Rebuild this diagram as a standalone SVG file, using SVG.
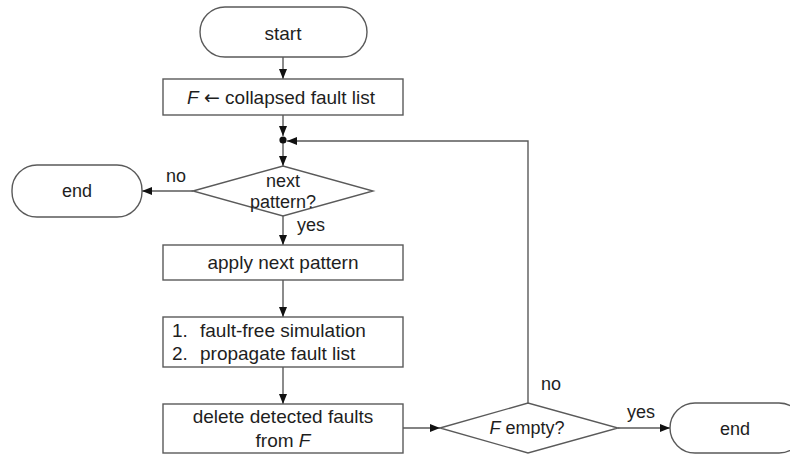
<svg xmlns="http://www.w3.org/2000/svg" width="790" height="455" viewBox="0 0 790 455">
  <style>
    .shape { fill: #ffffff; stroke: #5a5a5a; stroke-width: 1.4; }
    .link { fill: none; stroke: #5a5a5a; stroke-width: 1.4; }
    text { font-family: "Liberation Sans", Arial, sans-serif; font-size: 19px; fill: #1e1e1e; }
    .s { font-size: 18px; }
    .c { text-anchor: middle; }
    .i { font-style: italic; }
    .sym { font-family: "DejaVu Sans", sans-serif; }
  </style>
  <defs>
    <marker id="arrow" markerUnits="userSpaceOnUse" markerWidth="10" markerHeight="10" viewBox="0 0 10 10" refX="10" refY="5" orient="auto">
      <path d="M0,1 L10,5 L0,9 Z" fill="#111111"/>
    </marker>
  </defs>

  <rect width="790" height="455" fill="#ffffff"/>

  <!-- connectors and their labels -->
  <g id="connectors">
    <line class="link" x1="283" y1="57" x2="283" y2="79" marker-end="url(#arrow)"/>
    <line class="link" x1="283" y1="115" x2="283" y2="136" marker-end="url(#arrow)"/>
    <line class="link" x1="283" y1="140" x2="283" y2="166" marker-end="url(#arrow)"/>
    <line class="link" x1="193" y1="191" x2="142" y2="191" marker-end="url(#arrow)"/>
    <line class="link" x1="283" y1="216" x2="283" y2="245" marker-end="url(#arrow)"/>
    <line class="link" x1="283" y1="280" x2="283" y2="317" marker-end="url(#arrow)"/>
    <line class="link" x1="283" y1="367" x2="283" y2="404" marker-end="url(#arrow)"/>
    <line class="link" x1="403" y1="428" x2="440" y2="428" marker-end="url(#arrow)"/>
    <line class="link" x1="618" y1="428" x2="670" y2="428" marker-end="url(#arrow)"/>
    <polyline class="link" points="528,403 528,141 287,141" marker-end="url(#arrow)"/>
    <circle cx="283" cy="140" r="3.6" fill="#111111"/>
    <text class="s" x="166" y="182">no</text>
    <text class="s" x="297" y="231">yes</text>
    <text class="s" x="541" y="390">no</text>
    <text class="s" x="627" y="418">yes</text>
  </g>

  <g id="start">
    <rect class="shape" x="200" y="7" width="167" height="50" rx="25" ry="25"/>
    <text class="c" x="283" y="40">start</text>
  </g>

  <g id="init">
    <rect class="shape" x="163" y="79" width="240" height="36"/>
    <text x="187" y="104"><tspan class="i">F</tspan> <tspan class="sym">←</tspan> collapsed fault list</text>
  </g>

  <g id="next-pattern">
    <polygon class="shape" points="193,191 283,166 373,191 283,216"/>
    <text class="c s" x="283" y="187">next</text>
    <text class="c s" x="283" y="208">pattern?</text>
  </g>

  <g id="end-left">
    <rect class="shape" x="12" y="165" width="130" height="52" rx="25" ry="25"/>
    <text class="c s" x="77" y="197">end</text>
  </g>

  <g id="apply">
    <rect class="shape" x="163" y="245" width="240" height="35"/>
    <text class="c" x="283" y="269">apply next pattern</text>
  </g>

  <g id="simulate">
    <rect class="shape" x="163" y="317" width="240" height="50"/>
    <text x="172" y="337">1.</text>
    <text x="200" y="337">fault-free simulation</text>
    <text x="172" y="360">2.</text>
    <text x="200" y="360">propagate fault list</text>
  </g>

  <g id="delete">
    <rect class="shape" x="163" y="404" width="240" height="49"/>
    <text class="c" x="283" y="423">delete detected faults</text>
    <text class="c" x="283" y="447">from <tspan class="i">F</tspan></text>
  </g>

  <g id="f-empty">
    <polygon class="shape" points="440,428 528,403 618,428 528,453"/>
    <text class="c s" x="527" y="434"><tspan class="i">F</tspan> empty?</text>
  </g>

  <g id="end-right">
    <rect class="shape" x="670" y="403" width="134" height="50" rx="25" ry="25"/>
    <text class="c s" x="735" y="435">end</text>
  </g>
</svg>
